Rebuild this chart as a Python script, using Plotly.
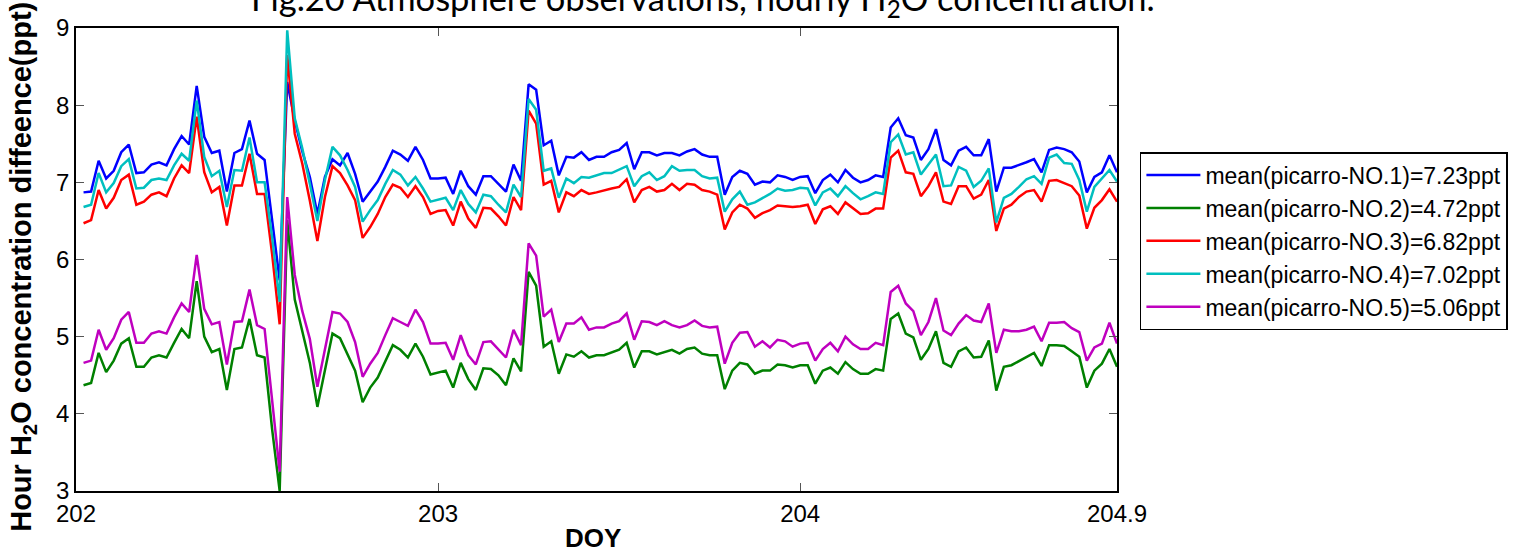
import numpy as np
import plotly.graph_objects as go

# Half-hourly sampling, DOY 202.0208 (00:30) to 204.875 (21:00)
n_points = 138
doy = 202 + (np.arange(n_points) + 1) / 48.0

picarro_1 = [
    6.87, 6.88, 7.28, 7.05, 7.15, 7.39, 7.49, 7.12, 7.13, 7.23, 7.26, 7.22, 7.43, 7.60, 7.49, 8.25,
    7.59, 7.38, 7.41, 6.88, 7.38, 7.43, 7.80, 7.37, 7.29, 6.51, 5.73, 8.30, 7.80, 7.40, 7.07, 6.59,
    7.07, 7.30, 7.22, 7.38, 7.11, 6.75, 6.88, 7.01, 7.20, 7.41, 7.36, 7.28, 7.46, 7.29, 7.05, 7.05,
    7.06, 6.85, 7.15, 6.95, 6.84, 7.08, 7.08, 6.98, 6.88, 7.23, 7.02, 8.27, 8.20, 7.48, 7.54, 7.09,
    7.33, 7.32, 7.39, 7.29, 7.33, 7.33, 7.39, 7.42, 7.51, 7.17, 7.39, 7.39, 7.35, 7.38, 7.38, 7.35,
    7.40, 7.43, 7.36, 7.33, 7.33, 6.84, 7.07, 7.15, 7.11, 6.97, 7.01, 7.00, 7.09, 7.07, 7.03, 7.07,
    7.08, 6.86, 7.03, 7.10, 7.00, 7.16, 7.06, 7.00, 7.03, 7.09, 7.07, 7.71, 7.83, 7.61, 7.58, 7.29,
    7.43, 7.69, 7.29, 7.22, 7.41, 7.46, 7.35, 7.35, 7.56, 6.88, 7.19, 7.19, 7.22, 7.26, 7.30, 7.13,
    7.42, 7.45, 7.43, 7.39, 7.27, 6.87, 7.07, 7.13, 7.35, 7.13,
]

picarro_2 = [
    4.37, 4.40, 4.79, 4.54, 4.69, 4.91, 4.98, 4.61, 4.61, 4.73, 4.76, 4.73, 4.92, 5.10, 4.98, 5.72,
    5.00, 4.80, 4.84, 4.31, 4.84, 4.86, 5.23, 4.76, 4.73, 3.80, 3.00, 6.51, 5.48, 5.06, 4.66, 4.09,
    4.56, 5.04, 4.98, 4.78, 4.56, 4.15, 4.34, 4.47, 4.69, 4.89, 4.83, 4.73, 4.91, 4.74, 4.51, 4.54,
    4.56, 4.34, 4.66, 4.45, 4.31, 4.59, 4.58, 4.50, 4.37, 4.72, 4.55, 5.84, 5.66, 4.87, 4.94, 4.52,
    4.77, 4.74, 4.81, 4.73, 4.76, 4.76, 4.79, 4.83, 4.92, 4.60, 4.81, 4.81, 4.77, 4.80, 4.83, 4.78,
    4.84, 4.86, 4.78, 4.76, 4.76, 4.32, 4.56, 4.66, 4.64, 4.52, 4.56, 4.56, 4.64, 4.63, 4.60, 4.63,
    4.63, 4.39, 4.56, 4.60, 4.52, 4.67, 4.58, 4.52, 4.52, 4.58, 4.56, 5.23, 5.30, 5.04, 4.99, 4.70,
    4.84, 5.07, 4.66, 4.61, 4.81, 4.86, 4.73, 4.74, 4.95, 4.30, 4.61, 4.63, 4.68, 4.73, 4.79, 4.62,
    4.89, 4.89, 4.88, 4.81, 4.74, 4.34, 4.56, 4.65, 4.84, 4.61,
]

picarro_3 = [
    6.47, 6.51, 6.90, 6.66, 6.80, 7.03, 7.10, 6.71, 6.75, 6.84, 6.87, 6.82, 7.05, 7.22, 7.12, 7.85,
    7.13, 6.87, 6.94, 6.44, 6.96, 6.96, 7.37, 6.85, 6.85, 6.07, 5.16, 8.65, 7.63, 7.24, 6.76, 6.24,
    6.81, 7.21, 7.12, 6.96, 6.77, 6.28, 6.42, 6.59, 6.81, 6.97, 6.93, 6.81, 6.95, 6.81, 6.59, 6.63,
    6.64, 6.44, 6.75, 6.53, 6.41, 6.67, 6.66, 6.56, 6.44, 6.81, 6.64, 7.93, 7.76, 6.97, 7.02, 6.61,
    6.87, 6.82, 6.90, 6.85, 6.87, 6.90, 6.92, 6.94, 7.04, 6.74, 6.90, 6.94, 6.88, 6.90, 6.98, 6.90,
    6.98, 6.97, 6.90, 6.88, 6.84, 6.39, 6.61, 6.71, 6.66, 6.54, 6.60, 6.64, 6.70, 6.69, 6.68, 6.69,
    6.71, 6.46, 6.65, 6.69, 6.59, 6.74, 6.66, 6.59, 6.60, 6.66, 6.66, 7.32, 7.41, 7.13, 7.11, 6.82,
    6.95, 7.13, 6.75, 6.72, 6.95, 6.95, 6.79, 6.84, 7.03, 6.37, 6.66, 6.71, 6.81, 6.88, 6.90, 6.75,
    7.02, 7.03, 6.99, 6.95, 6.83, 6.40, 6.67, 6.77, 6.91, 6.75,
]

picarro_4 = [
    6.68, 6.71, 7.12, 6.87, 6.99, 7.21, 7.30, 6.92, 6.93, 7.03, 7.05, 7.03, 7.22, 7.37, 7.28, 8.06,
    7.33, 7.08, 7.15, 6.68, 7.16, 7.15, 7.58, 7.00, 7.00, 6.29, 5.45, 8.97, 7.83, 7.44, 6.98, 6.50,
    7.03, 7.46, 7.35, 7.16, 6.94, 6.49, 6.64, 6.77, 6.98, 7.16, 7.10, 6.96, 7.07, 6.92, 6.75, 6.78,
    6.80, 6.64, 6.90, 6.72, 6.61, 6.84, 6.82, 6.71, 6.61, 6.97, 6.81, 8.08, 7.94, 7.15, 7.18, 6.80,
    7.05, 6.99, 7.07, 7.06, 7.09, 7.12, 7.12, 7.17, 7.21, 6.95, 7.08, 7.13, 7.03, 7.08, 7.21, 7.15,
    7.16, 7.16, 7.08, 7.05, 7.06, 6.62, 6.78, 6.88, 6.71, 6.74, 6.79, 6.85, 6.92, 6.89, 6.90, 6.93,
    6.92, 6.70, 6.87, 6.92, 6.82, 6.95, 6.86, 6.78, 6.82, 6.87, 6.85, 7.52, 7.62, 7.36, 7.39, 7.10,
    7.23, 7.36, 6.95, 6.96, 7.20, 7.15, 6.94, 7.02, 7.18, 6.48, 6.80, 6.85, 6.94, 7.04, 7.08, 6.98,
    7.32, 7.36, 7.25, 7.24, 7.03, 6.62, 6.94, 7.05, 7.16, 7.01,
]

picarro_5 = [
    4.66, 4.69, 5.09, 4.83, 4.98, 5.22, 5.32, 4.92, 4.92, 5.04, 5.07, 5.04, 5.25, 5.43, 5.32, 6.06,
    5.36, 5.16, 5.19, 4.64, 5.19, 5.20, 5.61, 5.15, 5.10, 4.15, 3.25, 6.81, 5.80, 5.33, 4.97, 4.35,
    4.84, 5.32, 5.30, 5.19, 4.93, 4.48, 4.65, 4.79, 5.02, 5.24, 5.19, 5.14, 5.35, 5.19, 4.91, 4.91,
    4.92, 4.70, 5.02, 4.76, 4.64, 4.93, 4.94, 4.84, 4.73, 5.09, 4.89, 6.21, 6.05, 5.26, 5.35, 4.93,
    5.17, 5.17, 5.25, 5.09, 5.12, 5.12, 5.17, 5.20, 5.30, 4.96, 5.20, 5.19, 5.15, 5.20, 5.15, 5.12,
    5.15, 5.21, 5.14, 5.12, 5.13, 4.65, 4.92, 5.05, 5.06, 4.87, 4.94, 4.86, 4.96, 4.94, 4.87, 4.91,
    4.92, 4.69, 4.84, 4.92, 4.81, 5.00, 4.90, 4.84, 4.84, 4.92, 4.89, 5.58, 5.66, 5.43, 5.33, 5.02,
    5.19, 5.50, 5.08, 5.02, 5.17, 5.28, 5.21, 5.19, 5.43, 4.79, 5.09, 5.07, 5.07, 5.09, 5.13, 4.94,
    5.18, 5.18, 5.19, 5.11, 5.06, 4.69, 4.86, 4.91, 5.18, 4.91,
]

series_names = [
    "mean(picarro-NO.1)=7.23ppt",
    "mean(picarro-NO.2)=4.72ppt",
    "mean(picarro-NO.3)=6.82ppt",
    "mean(picarro-NO.4)=7.02ppt",
    "mean(picarro-NO.5)=5.06ppt",
]
series_values = [picarro_1, picarro_2, picarro_3, picarro_4, picarro_5]
series_colors = ["#0000ff", "#008000", "#ff0000", "#00bfbf", "#bf00bf"]

x_tickvals = [202, 203, 204, 204.875]
x_ticktext = ["202", "203", "204", "204.9"]
y_tickvals = [3, 4, 5, 6, 7, 8, 9]

# zero-width non-joiners keep Lato from forming "ti" ligatures
title_text = ("Fig.20 Atmosphere observat\u200cions, hourly "
              "H<sub>2</sub>O concentrat\u200cion.")

fig = go.Figure()
for name, vals, color in zip(series_names, series_values, series_colors):
    fig.add_trace(go.Scatter(
        x=doy, y=vals, mode="lines", name=name,
        line=dict(color=color, width=2.5),
    ))

axis_common = dict(
    showline=True, linecolor="black", linewidth=1.5, mirror="ticks",
    ticks="inside", ticklen=8, tickwidth=1, tickcolor="#555555",
    showgrid=False, zeroline=False,
    tickfont=dict(family="Liberation Sans, Arial, sans-serif", size=24, color="black"),
)

fig.update_xaxes(range=[202, 204.875], tickvals=x_tickvals, ticktext=x_ticktext, **axis_common)
fig.update_yaxes(range=[3, 9], tickvals=y_tickvals, **axis_common)

fig.update_layout(
    width=1522, height=551,
    margin=dict(l=76, r=405, t=28, b=60),
    paper_bgcolor="white", plot_bgcolor="white",
    showlegend=True,
    legend=dict(
        x=1.022, y=0.732, xanchor="left", yanchor="top",
        bgcolor="white", bordercolor="black", borderwidth=1.5,
        font=dict(family="Liberation Sans, Arial, sans-serif", size=23, color="black"),
        itemwidth=54, tracegroupgap=0,
    ),
    annotations=[
        dict(
            text=title_text,
            xref="paper", yref="paper", x=0.602, y=1.0, yshift=3,
            xanchor="center", yanchor="bottom", showarrow=False,
            font=dict(family="Lato, sans-serif", size=34.5, color="black"),
        ),
        dict(
            text="<b>Hour H<sub>2</sub>O concentration diffeence(ppt)</b>",
            xref="paper", yref="paper", x=-0.051, y=0.484,
            xanchor="center", yanchor="middle", textangle=-90, showarrow=False,
            font=dict(family="Liberation Sans, Arial, sans-serif", size=29, color="black"),
        ),
        dict(
            text="<b>DOY</b>",
            xref="paper", yref="paper", x=0.4965, y=-0.101,
            xanchor="center", yanchor="middle", showarrow=False,
            font=dict(family="Liberation Sans, Arial, sans-serif", size=26, color="black"),
        ),
    ],
)

fig.write_html("out.html")
